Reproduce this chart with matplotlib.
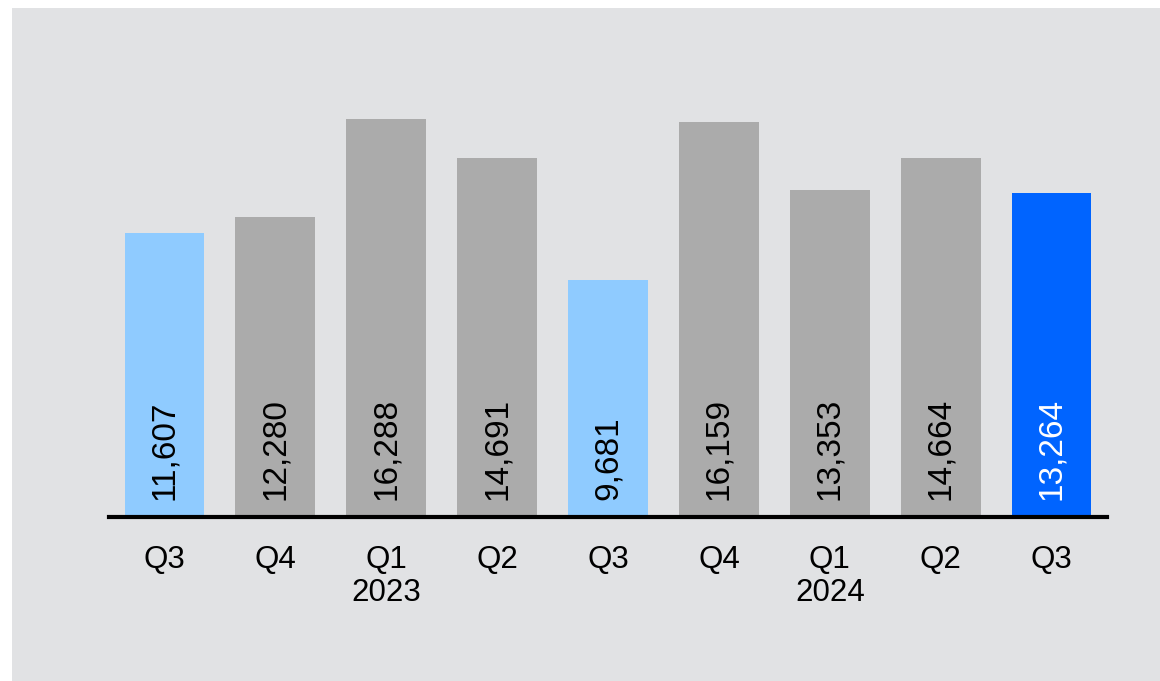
import matplotlib
matplotlib.use("Agg")
import matplotlib.pyplot as plt
from matplotlib.patches import Rectangle

plt.rcParams['font.family'] = ['Liberation Sans', 'DejaVu Sans']

quarters = ["Q3", "Q4", "Q1", "Q2", "Q3", "Q4", "Q1", "Q2", "Q3"]
years = ["", "", "2023", "", "", "", "2024", "", ""]
values = [11607, 12280, 16288, 14691, 9681, 16159, 13353, 14664, 13264]
bar_colors = ["#8FCBFF", "#ABABAB", "#ABABAB", "#ABABAB", "#8FCBFF",
              "#ABABAB", "#ABABAB", "#ABABAB", "#0064FF"]
label_colors = ["black"] * 8 + ["white"]

W, H = 1160, 681
fig = plt.figure(figsize=(W / 100, H / 100), dpi=100, facecolor="white")

# grey panel behind the chart
fig.patches.append(Rectangle((12 / W, 0), 1 - 12 / W, (H - 8) / H,
                             transform=fig.transFigure, facecolor="#E1E2E4",
                             edgecolor="none", zorder=-5))

left, right = 109, 1107
bottom, top = 517, 60
ax = fig.add_axes([left / W, 1 - bottom / H, (right - left) / W, (bottom - top) / H])
ax.set_facecolor("none")

x = list(range(len(values)))
ax.bar(x, values, width=0.72, color=bar_colors, zorder=2)
ax.set_xlim(-0.5, len(values) - 0.5)
ax.set_ylim(0, 18680)

for xi, v, c in zip(x, values, label_colors):
    ax.annotate(f"{v:,}", (xi, 0), xytext=(0, 17), textcoords="offset pixels",
                rotation=90, ha="center", va="bottom", fontsize=24, color=c,
                zorder=3)

ticklabels = [q if not y else f"{q}\n{y}" for q, y in zip(quarters, years)]
ax.set_xticks(x)
ax.set_xticklabels(ticklabels, fontsize=22.5, linespacing=1.15)
ax.tick_params(axis="x", length=0, pad=20)
ax.set_yticks([])

for s in ["top", "right", "left"]:
    ax.spines[s].set_visible(False)
ax.spines["bottom"].set_linewidth(3)
ax.spines["bottom"].set_color("black")
ax.spines["bottom"].set_zorder(4)

fig.savefig("out.png", dpi=100, facecolor="white")
